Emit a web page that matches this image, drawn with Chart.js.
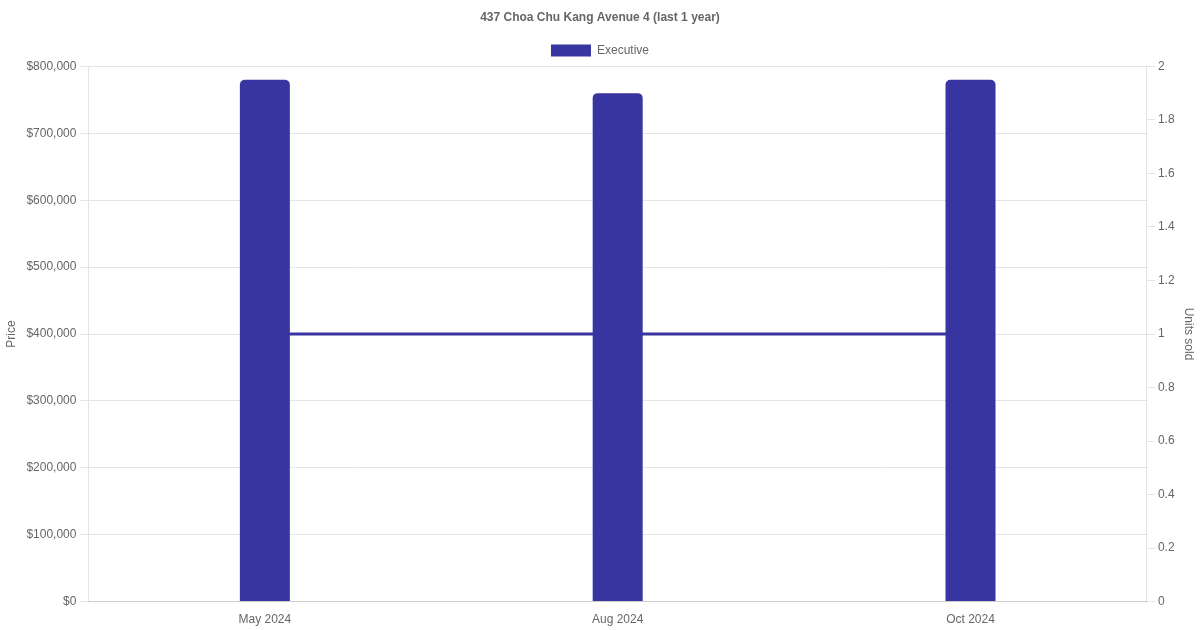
<!DOCTYPE html>
<html>
<head>
<meta charset="utf-8">
<script src="https://cdn.jsdelivr.net/npm/chart.js@4.4.1/dist/chart.umd.min.js"></script>
<style>
html,body{margin:0;padding:0;background:#fff;}
#wrap{width:1200px;height:630px;}
</style>
</head>
<body>
<div id="wrap"><canvas id="c" width="1200" height="630"></canvas></div>
<script>
const categories = ["May 2024", "Aug 2024", "Oct 2024"];
const prices = [780000, 760000, 780000];
const unitsSold = [1, 1, 1];
const seriesLabel = "Executive";
const color = "rgb(56,52,160)";

Chart.defaults.font.family = "'Liberation Sans', Arial, Helvetica, sans-serif";
Chart.defaults.font.size = 12;
Chart.defaults.color = "#666";

new Chart(document.getElementById("c"), {
  data: {
    labels: categories,
    datasets: [
      {
        type: "bar",
        label: seriesLabel,
        data: prices,
        backgroundColor: color,
        borderColor: color,
        borderRadius: 5,
        borderSkipped: "bottom",
        maxBarThickness: 50,
        yAxisID: "y",
        order: 0
      },
      {
        type: "line",
        label: "Units sold",
        data: unitsSold,
        borderColor: color,
        backgroundColor: color,
        borderWidth: 3,
        pointRadius: 0,
        yAxisID: "y1",
        order: 1
      }
    ]
  },
  options: {
    responsive: false,
    animation: false,
    plugins: {
      title: {
        display: true,
        text: "437 Choa Chu Kang Avenue 4 (last 1 year)",
        font: { weight: "bold", size: 12 },
        color: "#666"
      },
      legend: {
        labels: {
          filter: (item) => item.datasetIndex === 0
        }
      },
      tooltip: { enabled: false }
    },
    scales: {
      x: {
        grid: { display: false },
        ticks: { color: "#666" }
      },
      y: {
        position: "left",
        min: 0,
        max: 800000,
        ticks: {
          stepSize: 100000,
          color: "#666",
          padding: 4,
          callback: (v) => "$" + v.toLocaleString("en-US")
        },
        title: { display: true, text: "Price", color: "#666" },
        grid: { color: "#e5e5e5" }
      },
      y1: {
        position: "right",
        min: 0,
        max: 2,
        ticks: {
          stepSize: 0.2,
          color: "#666",
          callback: (v) => String(Math.round(v * 10) / 10)
        },
        title: { display: true, text: "Units sold", color: "#666" },
        grid: { drawOnChartArea: false, color: "#e5e5e5" }
      }
    }
  }
});
</script>
</body>
</html>
